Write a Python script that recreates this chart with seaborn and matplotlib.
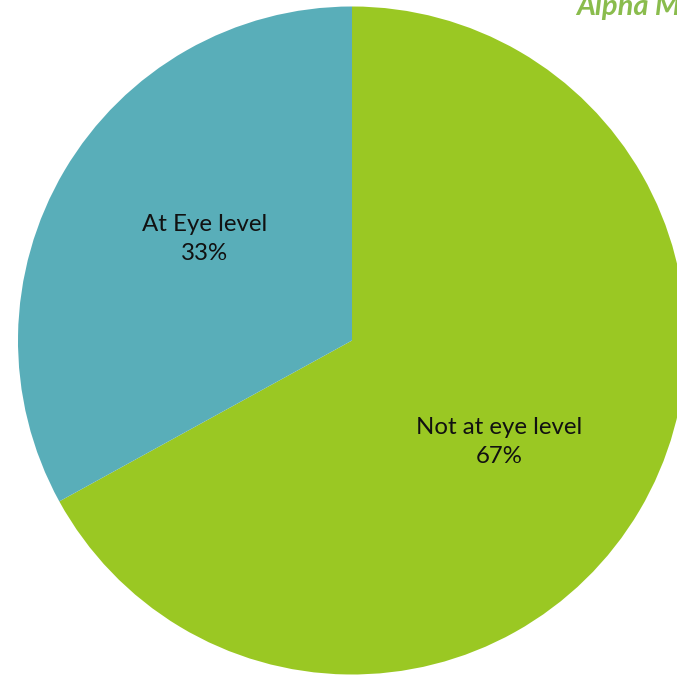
import numpy as np
import matplotlib
matplotlib.use("Agg")
import matplotlib.pyplot as plt
import seaborn as sns

# Share of shelf placements relative to eye level
categories = ["Not at eye level", "At Eye level"]
shares = [67, 33]
colors = ["#9AC823", "#59AEB9"]

sns.set_theme(style="white")
plt.rcParams["font.family"] = ["Lato", "DejaVu Sans"]

fig = plt.figure(figsize=(6.77, 6.76), dpi=100)
ax = fig.add_axes([0.02659, 0.00222, 0.98671, 0.98817])

wedges, _ = ax.pie(
    shares,
    colors=colors,
    startangle=90,
    counterclock=False,
    radius=1.0,
    wedgeprops=dict(linewidth=0),
)
ax.set_aspect("auto")
ax.set_xlim(-1, 1)
ax.set_ylim(-1, 1)
ax.axis("off")

# Category name and percentage inside each slice
for w, name, val in zip(wedges, categories, shares):
    mid = np.deg2rad((w.theta1 + w.theta2) / 2 - 4)
    r = 0.535
    ax.text(r * np.cos(mid), r * np.sin(mid), f"{name}\n{val}%",
            ha="center", va="center", fontsize=17.3, color="#111111",
            linespacing=1.45)

# Brand mark in the top-right corner
fig.text(576 / 677, 1 - 15 / 676, "Alpha Mom", ha="left", va="baseline",
         fontsize=21, style="italic", fontweight="bold", color="#7DB53A",
         alpha=0.9)

fig.savefig("out.png", dpi=100, facecolor="white")
